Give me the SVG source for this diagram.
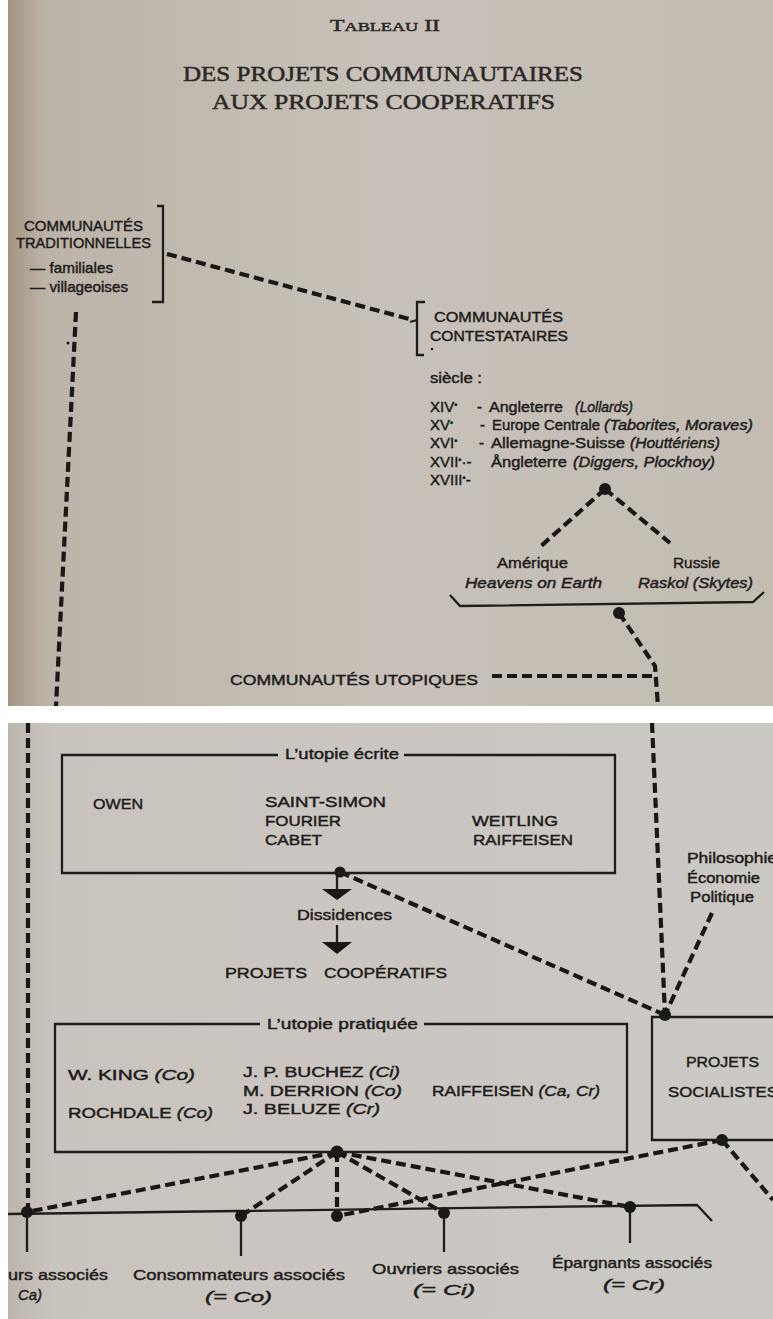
<svg xmlns="http://www.w3.org/2000/svg" width="773" height="1319" viewBox="0 0 773 1319">
<defs>
<linearGradient id="paperTop" x1="0" y1="0" x2="1" y2="0">
<stop offset="0" stop-color="#a39583"/>
<stop offset="0.05" stop-color="#bdb4a9"/>
<stop offset="0.5" stop-color="#c7c1b9"/>
<stop offset="1" stop-color="#c3bcb3"/>
</linearGradient>
<linearGradient id="paperBot" x1="0" y1="0" x2="1" y2="0">
<stop offset="0" stop-color="#bdb6ad"/>
<stop offset="0.06" stop-color="#c9c4be"/>
<stop offset="1" stop-color="#ccc8c3"/>
</linearGradient>
<style>
.t{font-family:"Liberation Sans","DejaVu Sans",sans-serif;fill:#1e1c1a;stroke:#1e1c1a;stroke-width:0.45;font-size:15px;}
.i{font-style:italic;}
.ser{font-family:"Liberation Serif","DejaVu Serif",serif;fill:#2a2724;stroke:#2a2724;stroke-width:0.5;}
.d{stroke:#1a1817;stroke-width:4.2;stroke-dasharray:10 5;fill:none;}
.s{stroke:#1f1d1b;stroke-width:2.3;fill:none;}
.dot{fill:#1a1817;}
.sup{font-size:9px;}
</style>
</defs>
<rect x="0" y="0" width="773" height="1319" fill="#ffffff"/>
<rect x="8" y="0" width="765" height="706" fill="url(#paperTop)"/>
<rect x="8" y="723" width="765" height="596" fill="url(#paperBot)"/>

<g id="title">
<text class="ser" x="330" y="31" font-size="17" textLength="110" lengthAdjust="spacingAndGlyphs">T<tspan font-size="13">ABLEAU</tspan> II</text>
<text class="ser" x="183" y="81" font-size="22" textLength="400" lengthAdjust="spacingAndGlyphs">DES PROJETS COMMUNAUTAIRES</text>
<text class="ser" x="212" y="109" font-size="22" textLength="343" lengthAdjust="spacingAndGlyphs">AUX PROJETS COOPERATIFS</text>
</g>

<g id="connectors">
<path class="d" d="M167,254 L413,320"/>
<path class="s" d="M410,322 L417,320"/>
<path class="d" d="M76,312 L56,706"/>
<path class="d" d="M605,489 L540,547"/>
<path class="d" d="M605,489 L670,543"/>
<path class="d" d="M619,613 L655,666 L658,706"/>
<path class="d" d="M492,676 L655,676"/>
<path class="d" d="M28,723 L28,1212"/>
<path class="d" d="M652,723 L665,1015"/>
<path class="d" d="M340,872 L665,1015"/>
<path class="d" d="M712,913 L665,1015"/>
<path class="s" d="M337,872 L337,890"/>
<polygon class="dot" points="322,889 352,889 337,900"/>
<path class="s" d="M337,925 L337,943"/>
<polygon class="dot" points="322,942 352,942 337,954"/>
<path class="d" d="M337,1152 L27,1212"/>
<path class="d" d="M337,1152 L241,1216"/>
<path class="d" d="M337,1152 L337,1216"/>
<path class="d" d="M337,1152 L444,1213"/>
<path class="d" d="M337,1152 L630,1207"/>
<path class="d" d="M722,1140 L337,1216"/>
<path class="d" d="M722,1140 L773,1200"/>
<path class="s" d="M8,1214 L697,1205 L712,1221"/>
<path class="s" d="M27,1212 L27,1252"/>
<path class="s" d="M241,1216 L241,1256"/>
<path class="s" d="M444,1213 L444,1252"/>
<path class="s" d="M630,1207 L630,1243"/>
<circle class="dot" cx="68" cy="343" r="1.5"/>
<circle class="dot" cx="605" cy="489" r="6"/>
<circle class="dot" cx="619" cy="613" r="6"/>
<circle class="dot" cx="340" cy="872" r="5.5"/>
<circle class="dot" cx="665" cy="1015" r="6"/>
<circle class="dot" cx="722" cy="1140" r="6"/>
<circle class="dot" cx="337" cy="1152" r="6.5"/>
<circle class="dot" cx="27" cy="1212" r="6"/>
<circle class="dot" cx="241" cy="1216" r="6"/>
<circle class="dot" cx="337" cy="1216" r="6"/>
<circle class="dot" cx="444" cy="1213" r="6"/>
<circle class="dot" cx="630" cy="1207" r="6"/>
</g>

<g id="communautes-traditionnelles">
<path class="s" d="M157,206 L163,206 L163,302 L152,302"/>
<text class="t" x="24" y="231" textLength="119" lengthAdjust="spacingAndGlyphs">COMMUNAUTÉS</text>
<text class="t" x="16" y="248" textLength="135" lengthAdjust="spacingAndGlyphs">TRADITIONNELLES</text>
<text class="t" x="30" y="273" font-size="14" textLength="83" lengthAdjust="spacingAndGlyphs">— familiales</text>
<text class="t" x="30" y="292" font-size="14" textLength="98" lengthAdjust="spacingAndGlyphs">— villageoises</text>
</g>

<g id="communautes-contestataires">
<path class="s" d="M425,302 L417,302 L417,355 L424,355"/>
<text class="t" x="434" y="322" textLength="129" lengthAdjust="spacingAndGlyphs">COMMUNAUTÉS</text>
<text class="t" x="430" y="341" textLength="138" lengthAdjust="spacingAndGlyphs">CONTESTATAIRES</text>
<circle class="dot" cx="432" cy="349" r="1.3"/>
<text class="t" x="430" y="383" textLength="52" lengthAdjust="spacingAndGlyphs">siècle :</text>
<text class="t" x="430" y="412" font-size="14">XIV<tspan class="sup" dy="-4">•</tspan></text>
<text class="t" x="477" y="412">-</text>
<text class="t" x="489" y="412" textLength="74" lengthAdjust="spacingAndGlyphs">Angleterre</text>
<text class="t i" x="575" y="412" textLength="58" lengthAdjust="spacingAndGlyphs">(Lollards)</text>
<text class="t" x="430" y="430" font-size="14">XV<tspan class="sup" dy="-4">•</tspan></text>
<text class="t" x="480" y="430">-</text>
<text class="t" x="492" y="430" textLength="108" lengthAdjust="spacingAndGlyphs">Europe Centrale</text>
<text class="t i" x="604" y="430" textLength="149" lengthAdjust="spacingAndGlyphs">(Taborites, Moraves)</text>
<text class="t" x="430" y="448" font-size="14">XVI<tspan class="sup" dy="-4">•</tspan></text>
<text class="t" x="479" y="448">-</text>
<text class="t" x="491" y="448" textLength="134" lengthAdjust="spacingAndGlyphs">Allemagne-Suisse</text>
<text class="t i" x="630" y="448" textLength="90" lengthAdjust="spacingAndGlyphs">(Houttériens)</text>
<text class="t" x="430" y="467" font-size="14">XVII<tspan class="sup" dy="-4">•</tspan><tspan dy="4">·-</tspan></text>
<text class="t" x="491" y="467" textLength="76" lengthAdjust="spacingAndGlyphs">Ångleterre</text>
<text class="t i" x="573" y="467" textLength="142" lengthAdjust="spacingAndGlyphs">(Diggers, Plockhoy)</text>
<text class="t" x="430" y="485" font-size="14">XVIII<tspan class="sup" dy="-4">•</tspan><tspan dy="4">-</tspan></text>
</g>

<g id="amerique-russie">
<text class="t" x="497" y="568" textLength="71" lengthAdjust="spacingAndGlyphs">Amérique</text>
<text class="t i" x="465" y="588" textLength="137" lengthAdjust="spacingAndGlyphs">Heavens on Earth</text>
<text class="t" x="673" y="568" textLength="47" lengthAdjust="spacingAndGlyphs">Russie</text>
<text class="t i" x="638" y="588" textLength="115" lengthAdjust="spacingAndGlyphs">Raskol (Skytes)</text>
<path class="s" d="M450,595 L460,606 L753,602 L764,592"/>
</g>

<g id="communautes-utopiques">
<text class="t" x="230" y="685" font-size="17" textLength="248" lengthAdjust="spacingAndGlyphs">COMMUNAUTÉS UTOPIQUES</text>
</g>

<g id="utopie-ecrite">
<path class="s" d="M278,755 L62,755 L62,873 L615,873 L615,755 L404,755"/>
<text class="t" x="285" y="759" textLength="114" lengthAdjust="spacingAndGlyphs">L’utopie écrite</text>
<text class="t" x="93" y="809" font-size="16" textLength="50" lengthAdjust="spacingAndGlyphs">OWEN</text>
<text class="t" x="265" y="807" font-size="16" textLength="121" lengthAdjust="spacingAndGlyphs">SAINT-SIMON</text>
<text class="t" x="265" y="826" font-size="16" textLength="76" lengthAdjust="spacingAndGlyphs">FOURIER</text>
<text class="t" x="265" y="845" font-size="16" textLength="57" lengthAdjust="spacingAndGlyphs">CABET</text>
<text class="t" x="472" y="826" font-size="16" textLength="86" lengthAdjust="spacingAndGlyphs">WEITLING</text>
<text class="t" x="473" y="845" font-size="16" textLength="100" lengthAdjust="spacingAndGlyphs">RAIFFEISEN</text>
</g>

<g id="dissidences">
<text class="t" x="297" y="920" textLength="95" lengthAdjust="spacingAndGlyphs">Dissidences</text>
</g>

<g id="projets-cooperatifs">
<text class="t" x="225" y="978" font-size="17" textLength="82" lengthAdjust="spacingAndGlyphs">PROJETS</text>
<text class="t" x="324" y="978" font-size="17" textLength="123" lengthAdjust="spacingAndGlyphs">COOPÉRATIFS</text>
</g>

<g id="philosophie">
<text class="t" x="687" y="863" font-size="14" textLength="90" lengthAdjust="spacingAndGlyphs">Philosophie</text>
<text class="t" x="687" y="883" font-size="14" textLength="73" lengthAdjust="spacingAndGlyphs">Économie</text>
<text class="t" x="690" y="902" font-size="14" textLength="64" lengthAdjust="spacingAndGlyphs">Politique</text>
</g>

<g id="utopie-pratiquee">
<path class="s" d="M260,1024 L55,1024 L55,1152 L627,1152 L627,1024 L424,1024"/>
<text class="t" x="267" y="1029" textLength="151" lengthAdjust="spacingAndGlyphs">L’utopie pratiquée</text>
<text class="t" x="68" y="1080" font-size="16" textLength="127" lengthAdjust="spacingAndGlyphs">W. KING <tspan class="i">(Co)</tspan></text>
<text class="t" x="243" y="1077" font-size="16" textLength="157" lengthAdjust="spacingAndGlyphs">J. P. BUCHEZ <tspan class="i">(Ci)</tspan></text>
<text class="t" x="243" y="1096" font-size="16" textLength="159" lengthAdjust="spacingAndGlyphs">M. DERRION <tspan class="i">(Co)</tspan></text>
<text class="t" x="432" y="1096" font-size="16" textLength="168" lengthAdjust="spacingAndGlyphs">RAIFFEISEN <tspan class="i">(Ca, Cr)</tspan></text>
<text class="t" x="68" y="1118" font-size="16" textLength="145" lengthAdjust="spacingAndGlyphs">ROCHDALE <tspan class="i">(Co)</tspan></text>
<text class="t" x="243" y="1114" font-size="16" textLength="137" lengthAdjust="spacingAndGlyphs">J. BELUZE <tspan class="i">(Cr)</tspan></text>
</g>

<g id="projets-socialistes">
<path class="s" d="M773,1017 L652,1017 L652,1140 L773,1140"/>
<text class="t" x="686" y="1067" font-size="16" textLength="73" lengthAdjust="spacingAndGlyphs">PROJETS</text>
<text class="t" x="668" y="1097" font-size="16" textLength="110" lengthAdjust="spacingAndGlyphs">SOCIALISTES</text>
</g>

<g id="labels-associes">
<text class="t" x="8" y="1280" font-size="16" textLength="100" lengthAdjust="spacingAndGlyphs">urs associés</text>
<text class="t i" x="18" y="1300" font-size="16" textLength="24" lengthAdjust="spacingAndGlyphs">Ca)</text>
<text class="t" x="133" y="1280" font-size="16" textLength="212" lengthAdjust="spacingAndGlyphs">Consommateurs associés</text>
<text class="t i" x="205" y="1302" font-size="16" textLength="67" lengthAdjust="spacingAndGlyphs">(= Co)</text>
<text class="t" x="372" y="1274" font-size="16" textLength="147" lengthAdjust="spacingAndGlyphs">Ouvriers associés</text>
<text class="t i" x="413" y="1295" font-size="16" textLength="62" lengthAdjust="spacingAndGlyphs">(= Ci)</text>
<text class="t" x="552" y="1268" font-size="16" textLength="160" lengthAdjust="spacingAndGlyphs">Épargnants associés</text>
<text class="t i" x="603" y="1290" font-size="16" textLength="62" lengthAdjust="spacingAndGlyphs">(= Cr)</text>
</g>
</svg>
